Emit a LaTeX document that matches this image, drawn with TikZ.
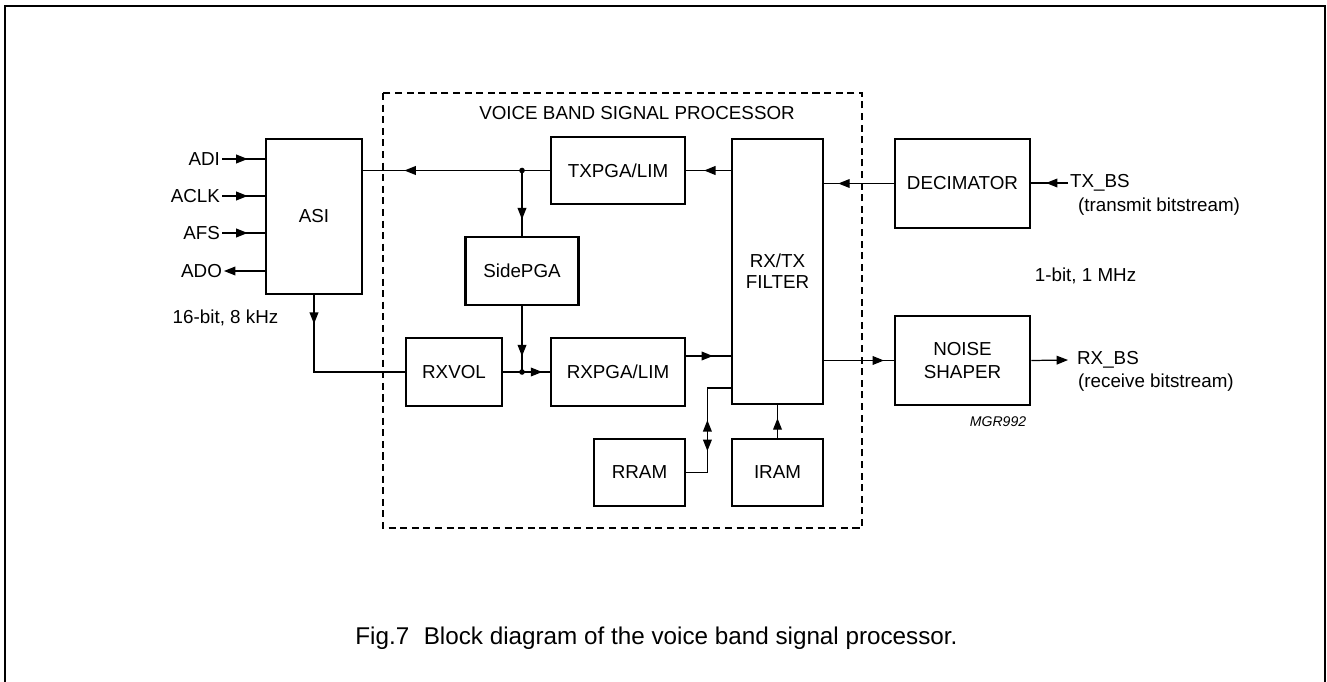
\documentclass[tikz,border=0pt]{standalone}
\usepackage{fontspec}
\setmainfont{Liberation Sans}
\usetikzlibrary{arrows.meta,positioning,decorations.markings}

\begin{document}
\begin{tikzpicture}[x=0.02cm,y=-0.02cm,>={Triangle[length=6.5pt,width=5pt]},
		font=\fontsize{10.7}{12}\selectfont,
		tipat/.style={postaction={decorate},decoration={markings,mark=at position #1 with {\arrow{>}}}}]
		\tikzstyle{block}=[draw,line width=1.6pt,inner sep=0pt,align=center]
		\tikzstyle{sig}=[line width=0.7pt]
		\tikzstyle{lbl}=[inner sep=1pt]
		\useasboundingbox (0,0) rectangle (1327,682);

		% frame and processor boundary
		\draw[line width=1pt] (5,6) rectangle (1325,700);
		\draw[line width=0.7pt,dash pattern=on 4pt off 2.6pt] (383,93) rectangle (862,528);
		\node (title) at (637,113) {VOICE BAND SIGNAL PROCESSOR};

		\node[block,minimum width=1.92cm,minimum height=3.10cm] (asi) at (314,216.5) {ASI};
		\node[block,minimum width=2.68cm,minimum height=1.34cm] (txpga) at (618,170.5) {TXPGA/LIM};
		\node[block,minimum width=2.26cm,minimum height=1.36cm] (sidepga) at (522,271) {SidePGA};
		\node[block,minimum width=1.92cm,minimum height=1.36cm] (rxvol) at (454,372) {RXVOL};
		\node[block,minimum width=2.68cm,minimum height=1.36cm] (rxpga) at (618,372) {RXPGA/LIM};
		\node[block,minimum width=1.82cm,minimum height=5.30cm] (filter) at (777.5,271.5) {RX/TX\\FILTER};
		\node[block,minimum width=1.82cm,minimum height=1.34cm] (rram) at (639.5,472.5) {RRAM};
		\node[block,minimum width=1.82cm,minimum height=1.34cm] (iram) at (777.5,472.5) {IRAM};
		\node[block,minimum width=2.70cm,minimum height=1.78cm] (decim) at (962.5,183.5) {DECIMATOR};
		\node[block,minimum width=2.70cm,minimum height=1.78cm,
			font=\fontsize{10.7}{13.5}\selectfont] (noise) at (962.5,360.5) {NOISE\\SHAPER};

		% pins of the serial interface
		\node[lbl,anchor=east] (adi) at (222,159) {ADI};
		\node[lbl,anchor=east] (aclk) at (222,196) {ACLK};
		\node[lbl,anchor=east] (afs) at (222,233) {AFS};
		\node[lbl,anchor=east] (ado) at (224,271) {ADO};
		\node (asirate) at (225.5,318) {16-bit, 8 kHz};

		\node[lbl,anchor=west] (txbs) at (1068,183) {TX\_BS};
		\node[lbl,anchor=west] (txnote) at (1076,207) {(transmit bitstream)};
		\node[lbl,anchor=west,inner xsep=5pt] (rxbs) at (1068,360) {RX\_BS};
		\node[lbl,anchor=west] (rxnote) at (1076,383) {(receive bitstream)};
		\node (bsrate) at (1085.5,276) {1-bit, 1 MHz};
		\node[font=\fontsize{8}{9}\selectfont\itshape] (code) at (998,422) {MGR992};

		\coordinate (jtx) at (sidepga.north |- txpga.west);
		\coordinate (jrx) at (sidepga.south |- rxvol.east);
		\coordinate (rxin) at ([yshift=0.32cm]rxpga.east);
		\coordinate (ramin) at ([yshift=-0.32cm]filter.west |- rxpga.east);

		\draw[sig,tipat=0.6] (adi.east) -- (adi.east -| asi.west);
		\draw[sig,tipat=0.6] (aclk.east) -- (aclk.east -| asi.west);
		\draw[sig,tipat=0.6] (afs.east) -- (afs.east -| asi.west);
		\draw[sig,->] (asi.west |- ado.east) -- (ado.east);

		\draw[sig,tipat=0.78] (txpga.west) -- (asi.east |- txpga.west);
		\draw[sig,tipat=0.75] (jtx) -- (sidepga.north);
		\draw[sig,tipat=0.76] (sidepga.south) -- (jrx);
		\draw[sig,tipat=0.17] (asi.south) |- (rxvol.west);
		\draw[sig,tipat=0.84] (rxvol.east) -- (rxpga.west);
		\draw[sig,tipat=0.6] (rxin) -- (rxin -| filter.west);
		\draw[sig,tipat=0.6] (filter.west |- txpga.east) -- (txpga.east);
		\draw[sig,postaction={decorate},decoration={markings,
			mark=at position 0.33 with {\arrowreversed{>}},
			mark=at position 0.57 with {\arrow{>}}}]
			(rram.east) -- ++(21,0) |- (ramin);
		\draw[sig,tipat=0.6] (iram.north) -- (iram.north |- filter.south);
		\fill (jtx) circle (1.6pt);
		\fill (jrx) circle (1.6pt);

		\draw[sig,tipat=0.8] (decim.west) -- (decim.west -| filter.east);
		\draw[sig,tipat=0.6] (txbs.west) -- (txbs.west -| decim.east);
		\draw[sig,tipat=0.86] (filter.east |- noise.west) -- (noise.west);
		\draw[sig,->] (noise.east) -- (rxbs.west);

		\node[anchor=base west,inner sep=0pt,font=\fontsize{13.8}{15}\selectfont] (caption) at (355,644)
			{Fig.7\hspace{0.6em}Block diagram of the voice band signal processor.};
	\end{tikzpicture}
\end{document}
